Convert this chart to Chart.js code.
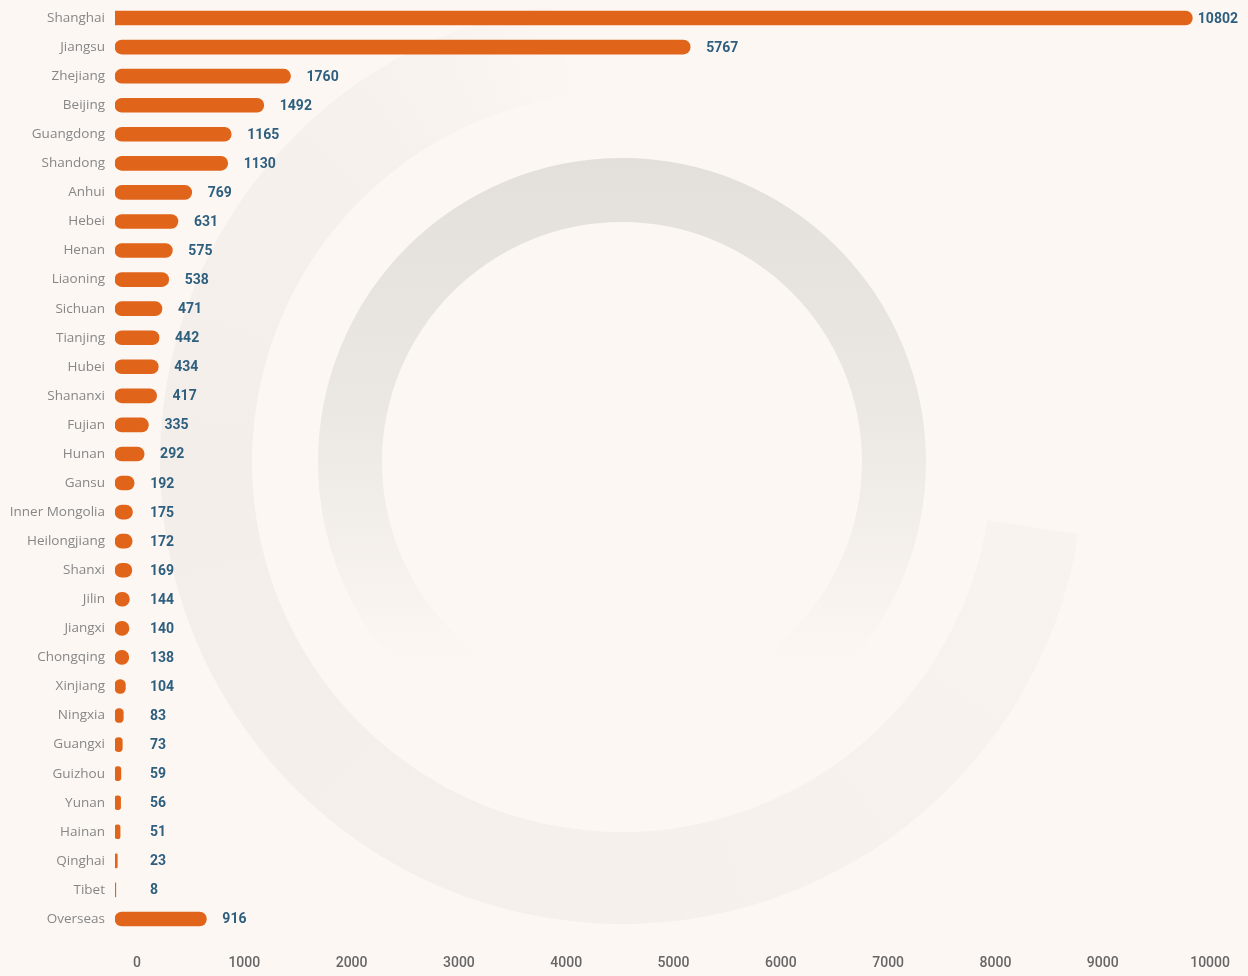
<!DOCTYPE html>
<html>
<head>
<meta charset="utf-8">
<script src="https://cdn.jsdelivr.net/npm/chart.js@4.4.1/dist/chart.umd.min.js"></script>
<style>
    body { margin: 0; background: #fcf7f3; }
    canvas { display: block; }
</style>
</head>
<body>
<canvas id="myChart" width="1248" height="976"></canvas>
<script>
// Data
const provinces = ['Shanghai', 'Jiangsu', 'Zhejiang', 'Beijing', 'Guangdong', 'Shandong', 'Anhui', 'Hebei',
    'Henan', 'Liaoning', 'Sichuan', 'Tianjing', 'Hubei', 'Shananxi', 'Fujian', 'Hunan', 'Gansu',
    'Inner Mongolia', 'Heilongjiang', 'Shanxi', 'Jilin', 'Jiangxi', 'Chongqing', 'Xinjiang', 'Ningxia',
    'Guangxi', 'Guizhou', 'Yunan', 'Hainan', 'Qinghai', 'Tibet', 'Overseas'];
const counts = [10802, 5767, 1760, 1492, 1165, 1130, 769, 631, 575, 538, 471, 442, 434, 417, 335, 292, 192,
    175, 172, 169, 144, 140, 138, 104, 83, 73, 59, 56, 51, 23, 8, 916];
const tickValues = [0, 1000, 2000, 3000, 4000, 5000, 6000, 7000, 8000, 9000, 10000];

const bgColor = '#fcf7f3';
const orange = '#e0651a';

// background rings
const backgroundPlugin = {
    id: 'rings',
    beforeDraw(chart) {
        const ctx = chart.ctx;
        ctx.save();
        ctx.fillStyle = bgColor;
        ctx.fillRect(0, 0, chart.width, chart.height);

        const cx = 622, cy = 462;
        const rad = d => d * Math.PI / 180;

        // big faint arc, fading out at the top end
        let g = ctx.createConicGradient(rad(9), cx, cy);
        g.addColorStop(0, '#f8f3ef');
        g.addColorStop(81 / 360, '#f5f0ec');
        g.addColorStop(171 / 360, '#f3eeea');
        g.addColorStop(225 / 360, '#f6f1ed');
        g.addColorStop(256 / 360, bgColor);
        g.addColorStop(1, bgColor);
        ctx.fillStyle = g;
        ctx.beginPath();
        ctx.arc(cx, cy, 462, rad(9), rad(262), false);
        ctx.arc(cx, cy, 370, rad(262), rad(9), true);
        ctx.closePath();
        ctx.fill();

        // inner ring
        g = ctx.createLinearGradient(0, 158, 0, 660);
        g.addColorStop(0, '#e3dfdb');
        g.addColorStop(0.5, '#ebe7e3');
        g.addColorStop(1, bgColor);
        ctx.fillStyle = g;
        ctx.beginPath();
        ctx.arc(cx, cy, 304, 0, Math.PI * 2, false);
        ctx.arc(cx, cy, 240, Math.PI * 2, 0, true);
        ctx.closePath();
        ctx.fill();
        ctx.restore();
    }
};

// value labels after each bar
const valueLabels = {
    id: 'valueLabels',
    afterDatasetsDraw(chart) {
        const ctx = chart.ctx;
        const meta = chart.getDatasetMeta(0);
        ctx.save();
        ctx.font = 'bold 14px Roboto';
        ctx.fillStyle = '#2e5f7e';
        ctx.textBaseline = 'middle';
        ctx.textAlign = 'left';
        meta.data.forEach((bar, i) => {
            const txt = String(counts[i]);
            const w = ctx.measureText(txt).width;
            let x = Math.max(bar.x + 16, 150);
            if (x + w > chart.width - 10) x = Math.max(bar.x + 4, chart.width - 10 - w);
            ctx.fillText(txt, x, bar.y + 1);
        });
        ctx.restore();
    }
};

const data = {
    labels: provinces,
    datasets: [{
        data: counts,
        xAxisID: 'x',
        backgroundColor: orange,
        borderWidth: 0,
        borderSkipped: false,
        borderRadius: c => c.dataIndex === 0
            ? {topLeft: 0, bottomLeft: 0, topRight: 7, bottomRight: 7}
            : 7,
        barThickness: 14
    }]
};

const config = {
    type: 'bar',
    data: data,
    options: {
        indexAxis: 'y',
        responsive: false,
        animation: false,
        devicePixelRatio: 1,
        layout: { padding: { top: 3.5, right: 8, left: 0, bottom: 0 } },
        plugins: {
            legend: { display: false },
            tooltip: { enabled: false }
        },
        scales: {
            x: {
                display: false,
                min: 0,
                max: 11280
            },
            x2: {
                position: 'bottom',
                min: -205,
                max: 10279,
                grid: { display: false, drawTicks: false },
                border: { display: false },
                afterBuildTicks: scale => {
                    scale.ticks = tickValues.map(v => ({ value: v }));
                },
                afterFit: scale => {
                    scale.height = 42.5;
                    scale.paddingLeft = 0;
                    scale.paddingRight = 0;
                },
                ticks: {
                    color: '#666',
                    padding: 22,
                    callback: v => String(v),
                    font: { family: 'Roboto', size: 14, weight: '500' }
                }
            },
            y: {
                grid: { display: false, drawTicks: false },
                border: { display: false },
                afterFit: scale => {
                    scale.width = 115;
                    scale.paddingTop = 0;
                    scale.paddingBottom = 0;
                },
                ticks: {
                    color: '#878787',
                    padding: 10,
                    font: { family: 'Open Sans', size: 13.5 }
                }
            }
        }
    },
    plugins: [backgroundPlugin, valueLabels]
};

const myChart = new Chart(
    document.querySelector('#myChart'),
    config
);
</script>
</body>
</html>
